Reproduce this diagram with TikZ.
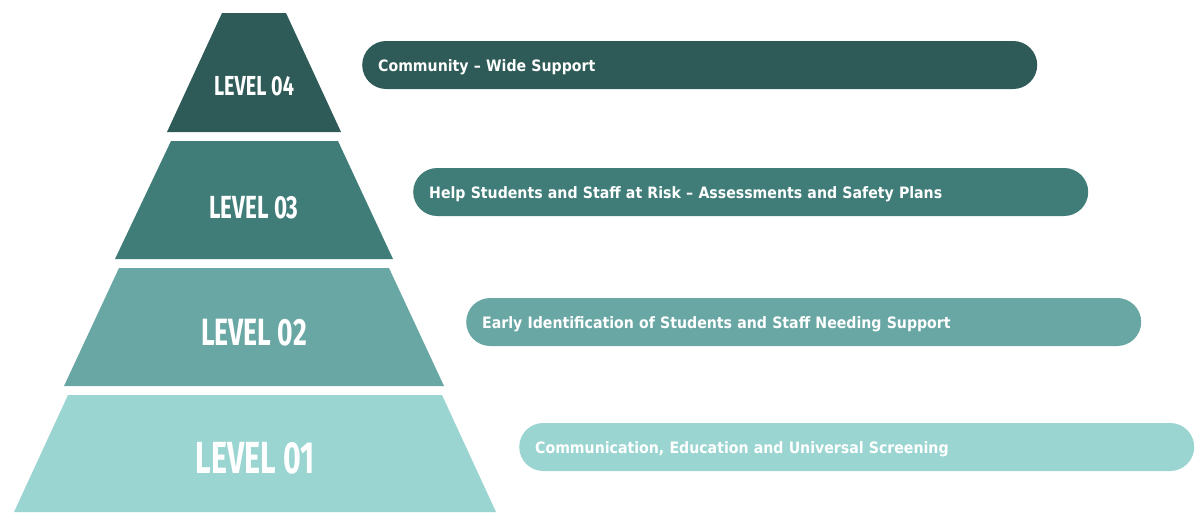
\documentclass[tikz,border=0pt]{standalone}
\usepackage{fontspec}
\setmainfont{DejaVu Sans}
\newfontfamily\pillfont{DejaVu Sans Condensed}[BoldFont={DejaVu Sans Condensed Bold}]
\newfontfamily\levelfont{Fira Sans}
\usetikzlibrary{positioning}
\definecolor{lvfour}{HTML}{2E5B57}
\definecolor{lvthree}{HTML}{407D79}
\definecolor{lvtwo}{HTML}{69A7A4}
\definecolor{lvone}{HTML}{9AD5D1}

\begin{document}
\begin{tikzpicture}
	[x=1pt, y=-1pt,
	level/.style={text = white, inner sep = 0pt, font = \levelfont\bfseries},
	pill/.style={rounded corners = 24pt, minimum height = 48pt, inner xsep = 16pt,
		text width = 643pt, text height = 12.2pt, text depth = 0pt,
		align = left, anchor = west, text = white,
		font = \pillfont\bfseries\fontsize{15.7}{18}\selectfont}]
	\useasboundingbox (0,0) rectangle (1200,525);

	% pyramid
	\fill[lvfour] (222,13) -- (286,13) -- (341,132) -- (167,132) -- cycle;
	\fill[lvthree] (171,141) -- (338,141) -- (393,259) -- (115,259) -- cycle;
	\fill[lvtwo] (119,268) -- (389,268) -- (444,386) -- (64,386) -- cycle;
	\fill[lvone] (68,395) -- (442,395) -- (496,512) -- (14,512) -- cycle;

	\node (level4) [level] at (254,86) {\scalebox{0.72}[1]{\fontsize{27.5}{28}\selectfont LEVEL 04}};
	\node (level3) [level] at (254,208) {\scalebox{0.70}[1]{\fontsize{32}{32}\selectfont LEVEL 03}};
	\node (level2) [level] at (254,333) {\scalebox{0.70}[1]{\fontsize{38}{38}\selectfont LEVEL 02}};
	\node (level1) [level] at (255,458) {\scalebox{0.675}[1]{\fontsize{45}{45}\selectfont LEVEL 01}};

	% bars
	\node (bar4) [pill, fill = lvfour] at (362,65) {Community – Wide Support};
	\node (bar3) [pill, fill = lvthree] at (413,192) {Help Students and Staff at Risk – Assessments and Safety Plans};
	\node (bar2) [pill, fill = lvtwo] at (466,322) {Early Identification of Students and Staff Needing Support};
	\node (bar1) [pill, fill = lvone] at (519,447) {Communication, Education and Universal Screening};
\end{tikzpicture}
\end{document}
